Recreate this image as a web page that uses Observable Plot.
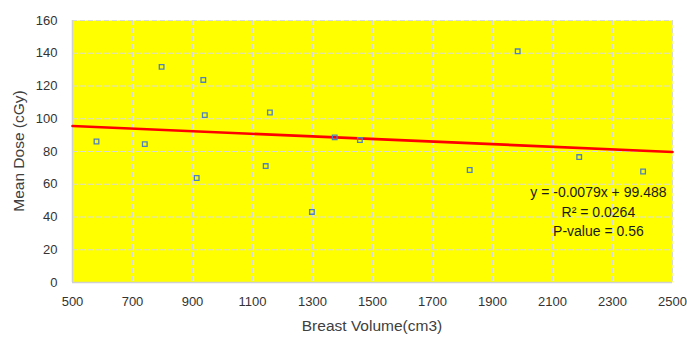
<!DOCTYPE html>
<html>
<head>
<meta charset="utf-8">
<script src="https://cdn.jsdelivr.net/npm/d3@7"></script>
<script src="https://cdn.jsdelivr.net/npm/@observablehq/plot@0.6"></script>
<style>
  html, body { margin: 0; padding: 0; background: #fff; }
</style>
</head>
<body>
<div id="chart"></div>
<script>
const volume = [580, 741, 797, 914, 936, 941, 1144, 1158, 1298, 1374, 1458, 1824, 1984, 2189, 2402];
const dose   = [86.1, 84.5, 131.7, 63.8, 123.7, 102.2, 71.1, 103.8, 43.1, 88.6, 87.0, 68.7, 141.2, 76.6, 67.8];
const xTicks = [500, 700, 900, 1100, 1300, 1500, 1700, 1900, 2100, 2300, 2500];
const yTicks = [0, 20, 40, 60, 80, 100, 120, 140, 160];
const slope = -0.0079, intercept = 99.488;
const fitLabels = ["y = -0.0079x + 99.488", "R² = 0.0264", "P-value = 0.56"];
const fitLabelX = 2253;
const fitLabelY = [54.9, 42.7, 31.1];

const points = volume.map((v, i) => ({x: v, y: dose[i]}));
const trend = [500, 2500].map(x => ({x, y: slope * x + intercept}));
const labels = fitLabels.map((t, i) => ({t, x: fitLabelX, y: fitLabelY[i]}));

const font = "'Liberation Sans', Arial, sans-serif";
const chart = Plot.plot({
  width: 687,
  height: 338,
  marginLeft: 72,
  marginRight: 15,
  marginTop: 20,
  marginBottom: 56,
  style: {fontFamily: font, fontSize: "13px", color: "#404040", background: "#fff"},
  x: {domain: [500, 2500], ticks: xTicks, tickFormat: "d"},
  y: {domain: [0, 160], ticks: yTicks, tickFormat: "d"},
  marks: [
    Plot.frame({fill: "#ffff00", stroke: null}),
    Plot.ruleX(xTicks.slice(1), {stroke: "#d9d9d9", strokeWidth: 1.2, strokeDasharray: "5,3"}),
    Plot.ruleY(yTicks.slice(1), {stroke: "#d9d9d9", strokeWidth: 1.2, strokeDasharray: "5,3"}),
    Plot.ruleX([500], {stroke: "#d0d0d0", strokeWidth: 1.5}),
    Plot.ruleY([0], {stroke: "#d0d0d0", strokeWidth: 1.5}),
    Plot.axisX({ticks: xTicks, tickFormat: "d", tickSize: 0, tickPadding: 14, fontSize: 13, fill: "#333", label: null}),
    Plot.axisY({ticks: yTicks, tickFormat: "d", tickSize: 0, tickPadding: 15, fontSize: 13, fill: "#333", label: null}),
    Plot.line(trend, {x: "x", y: "y", stroke: "#ff0000", strokeWidth: 2.6}),
    Plot.dot(points, {x: "x", y: "y", symbol: "square", r: 2.6, stroke: "#4f81bd", strokeWidth: 1.3, fill: "none"}),
    Plot.text(labels, {x: "x", y: "y", text: "t", fontSize: 14, fill: "#1a1a1a", textAnchor: "middle"})
  ]
});
const svg = d3.select(chart);
svg.append("text")
  .attr("transform", "translate(20,151) rotate(-90)")
  .attr("text-anchor", "middle").attr("dominant-baseline", "middle")
  .attr("font-size", 15.5).attr("fill", "#404040").attr("font-family", font)
  .text("Mean Dose (cGy)");
svg.append("text")
  .attr("x", 372).attr("y", 327)
  .attr("text-anchor", "middle").attr("dominant-baseline", "middle")
  .attr("font-size", 15.5).attr("fill", "#404040").attr("font-family", font)
  .text("Breast Volume(cm3)");
document.getElementById("chart").appendChild(chart);
</script>
</body>
</html>
